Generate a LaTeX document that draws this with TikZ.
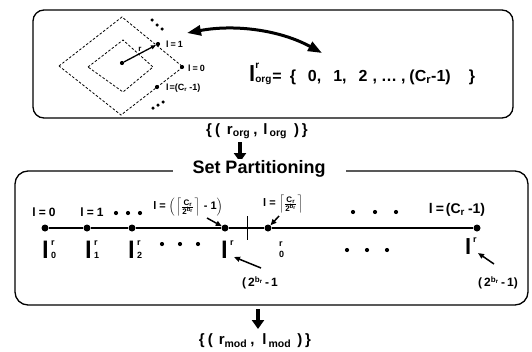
\documentclass[tikz,border=0pt]{standalone}
\usepackage{fontspec}
\setmainfont{Liberation Sans}
\usetikzlibrary{arrows.meta}
\newcommand{\Fs}[1]{\fontsize{#1}{#1}\selectfont}
% sup, sub, size, raise of sup, raise of sub
\newcommand{\SupSub}[5]{\makebox[0pt][l]{\raisebox{#4}{\Fs{#3}#1}}\raisebox{#5}{\Fs{#3}#2}}
\newcommand{\CeilFrac}[1]{\(\left\lceil\frac{\mbox{\Fs{#1}C\textsubscript{r}}}{\mbox{\Fs{#1}2\textsuperscript{b\textsubscript{r}}}}\right\rceil\)}
\begin{document}
\begin{tikzpicture}[x=1pt,y=-1pt,
  lbl/.style={inner sep=0pt, font=\bfseries\Fs{12}},
  bigl/.style={inner sep=0pt, anchor=base west, font=\bfseries\Fs{24}},
  idx/.style={inner sep=0pt, anchor=base west, font=\bfseries\Fs{9}},
  bigdot/.style={circle, fill, inner sep=0pt, minimum size=7pt},
  sdot/.style={circle, fill, inner sep=0pt, minimum size=4.2pt},
  tdot/.style={circle, fill, inner sep=0pt, minimum size=3.5pt},
  frame/.style={draw, line width=1.3pt, rounded corners=11pt, inner sep=0pt},
  dia/.style={line width=0.8pt, dash pattern=on 2.5pt off 1.8pt},
  bigarrow/.style={line width=3.5pt, -{Triangle[length=9pt,width=12pt]}},
  ptr/.style={line width=1.5pt, -{Triangle[length=6pt,width=5pt]}}]
\useasboundingbox (0,0) rectangle (532,351);

% ---------- top box ----------
\node[frame, minimum width=480pt, minimum height=108pt] (topbox) at (273,64) {};
\draw[dia] (59,66) -- (122,17) -- (183,67) -- (121,115) -- cycle;
\draw[dia] (88,67) -- (123,40) -- (153,67) -- (123,92) -- cycle;
\node[sdot] (c) at (122,63) {};
\node[sdot] (d1) at (158,44) {};
\node[sdot] (d0) at (182,67) {};
\node[sdot] (dc) at (157,87) {};
\draw[line width=1.3pt, -{Triangle[length=5pt,width=4pt]}] (c) -- (d1) node[pos=0.5, above, inner sep=1.5pt, font=\bfseries\Fs{8}] {r};
\foreach \i/\x/\y in {1/152/20,2/157/25,3/162/29,4/153/108,5/158/105,6/163/102}
  \node[tdot] (e\i) at (\x,\y) {};
\node[lbl, font=\bfseries\Fs{9}, anchor=west] (t1) at (166,44) {l\hspace{2pt}=\hspace{2pt}1};
\node[lbl, font=\bfseries\Fs{9}, anchor=west] (t0) at (188,68) {l\hspace{2pt}=\hspace{2pt}0};
\node[lbl, font=\bfseries\Fs{9}, anchor=west] (tc) at (166,88) {l\hspace{1pt}=(C\textsubscript{r}\hspace{2pt}-1)};
\coordinate (aL) at (187,33);
\node[inner sep=0pt, anchor=base west, font=\bfseries\Fs{16}] (set) at (249,81)
  {{\Fs{22}l}\SupSub{r}{org}{10}{13pt}{-1pt}\hspace{1pt}=\hspace{8pt}\{\hspace{12pt}0,\hspace{12pt}1,\hspace{12pt}2\hspace{5pt},\hspace{4pt}\dots\hspace{4pt},\hspace{4pt}(C\textsubscript{r}-1)\hspace{18pt}\}};
\coordinate (aR) at (322,53);
\draw[line width=3pt, {Triangle[length=14pt,width=10pt]}-{Triangle[length=14pt,width=10pt]}]
  (aL) .. controls (235,24) and (280,30) .. (aR);

% ---------- between ----------
\node[inner sep=0pt, font=\bfseries\Fs{15}] (org) at (257,131)
  {\{\hspace{3pt}(\hspace{7pt}r\textsubscript{org}\hspace{3pt},\hspace{6pt}l\hspace{2pt}\textsubscript{org}\hspace{7pt})\hspace{3pt}\}};
\coordinate (a1s) at (240,142);
\coordinate (a1e) at (240,162);
\draw[bigarrow] (a1s) -- (a1e);

% ---------- bottom box ----------
\node[frame, rounded corners=13pt, minimum width=513pt, minimum height=134pt] (botbox) at (271.5,238) {};
\node[fill=white, inner xsep=20pt, inner ysep=2pt, font=\bfseries\Fs{18}] (title) at (259,169) {Set Partitioning};

\node[bigdot] (p0) at (45,228) {};
\node[bigdot] (p1) at (87,228) {};
\node[bigdot] (p2) at (132,228) {};
\node[bigdot] (p3) at (225,228) {};
\node[bigdot] (p4) at (268,228) {};
\node[bigdot] (p5) at (477,228) {};
\draw[line width=1.4pt] (p0) -- (p1) -- (p2) -- (p3) -- (p4) -- (p5);
\coordinate (tk1) at (247,216);
\coordinate (tk2) at (247,240);
\draw[line width=0.8pt] (tk1) -- (tk2);

% labels above
\node[lbl] (u0) at (44,212) {l\hspace{3pt}=\hspace{3pt}0};
\node[lbl] (u1) at (92,212) {l\hspace{3pt}=\hspace{3pt}1};
\foreach \i/\x in {1/116,2/128,3/140} \node[sdot] (ud\i) at (\x,213) {};
\node[lbl, font=\bfseries\Fs{11}] (u3) at (188,207) {l = \Big(\hspace{1pt}\CeilFrac{8}\hspace{4pt}- 1\Big)};
\node[lbl, font=\bfseries\Fs{11}] (u4) at (283,204) {l = \CeilFrac{8}};
\foreach \i/\x in {4/353,5/375,6/396} \node[sdot] (ud\i) at (\x,212) {};
\node[lbl, font=\bfseries\Fs{14}] (u5) at (457,210) {l\hspace{3pt}=\hspace{2pt}(C\textsubscript{r}\hspace{3pt}-1)};
\draw[ptr] (207,218) -- (p3);
\draw[ptr] (279,216) -- (p4);

% labels below: big l, then its index stack
\foreach \n/\x/\k in {0/42/0,1/85/1,2/128/2}{
  \node[bigl] (l\n) at (\x,258) {l};
  \node[idx] (ls\n) at (\x+9,245) {r};
  \node[idx] (lb\n) at (\x+9,258) {\k};
}
\foreach \i/\x in {1/162,2/180,3/198} \node[sdot] (bd\i) at (\x,244) {};
\node[bigl] (l3) at (221,258) {l};
\node[idx] (ls3) at (230,245) {r};
\node[idx] (ls4) at (279,246) {r};
\node[idx] (lb4) at (279,257) {0};
\foreach \i/\x in {4/347,5/367,6/387} \node[sdot] (bd\i) at (\x,250) {};
\node[bigl, font=\bfseries\Fs{22}] (l5) at (465,254) {l};
\node[idx] (ls5) at (473,242) {r};
\node[lbl] (n1) at (260,283) {(\hspace{2pt}2\textsuperscript{b\textsubscript{r}}\hspace{2pt}-\hspace{2pt}1};
\node[lbl] (n2) at (498,283) {(\hspace{2pt}2\textsuperscript{b\textsubscript{r}}\hspace{2pt}-\hspace{2pt}1)};
\coordinate (n1s) at (261,268);
\coordinate (n1e) at (234,257);
\coordinate (n2s) at (494,264);
\coordinate (n2e) at (478,253);
\draw[ptr] (n1s) -- (n1e);
\draw[ptr] (n2s) -- (n2e);

% ---------- bottom ----------
\coordinate (a2s) at (258,309);
\coordinate (a2e) at (258,329);
\draw[bigarrow] (a2s) -- (a2e);
\node[inner sep=0pt, font=\bfseries\Fs{15}] (mod) at (255,341)
  {\{\hspace{3pt}(\hspace{6pt}r\textsubscript{mod}\hspace{3pt},\hspace{8pt}l\hspace{2pt}\textsubscript{mod}\hspace{6pt})\hspace{3pt}\}};
\end{tikzpicture}
\end{document}
